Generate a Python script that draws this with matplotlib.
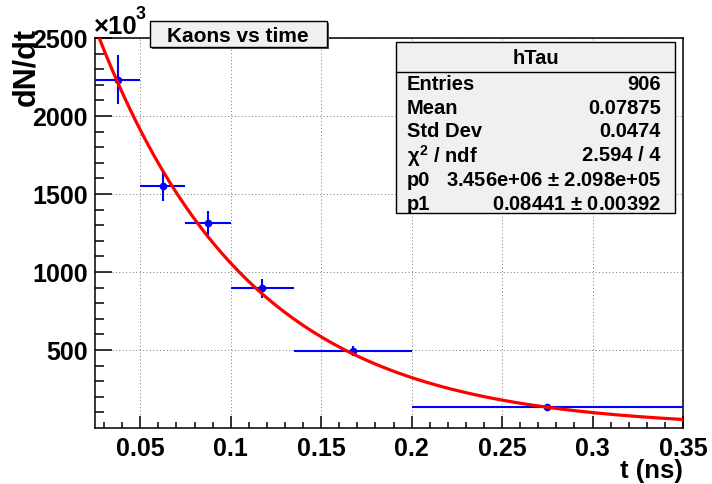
import matplotlib
matplotlib.use('Agg')
import matplotlib.pyplot as plt
from matplotlib.patches import Rectangle
from matplotlib.lines import Line2D
import numpy as np

plt.rcParams['font.family'] = ['Liberation Sans', 'DejaVu Sans']
plt.rcParams['font.weight'] = 'bold'
plt.rcParams['mathtext.fontset'] = 'custom'
plt.rcParams['mathtext.rm'] = 'Liberation Sans:bold'
plt.rcParams['mathtext.it'] = 'Liberation Sans:bold'

# bins (ns) and dN/dt in units of 10^3
t_lo = [0.025, 0.05, 0.075, 0.1, 0.135, 0.2]
t_hi = [0.05, 0.075, 0.1, 0.135, 0.2, 0.35]
rate = [2231, 1551, 1314, 897, 494, 135]
rate_err = [157, 93, 77, 61, 32, 10]

# fit p0*exp(-t/p1)
p0 = 3.456e+06
p1 = 0.08441

stats_labels = ['Entries', 'Mean', 'Std Dev', r'$\chi^2$ / ndf', 'p0', 'p1']
stats_values = ['906', '0.07875', '0.0474', '2.594 / 4',
                '3.456e+06 $\\pm$ 2.098e+05', '0.08441 $\\pm$ 0.00392']

W, H = 712, 485
fig = plt.figure(figsize=(W / 100, H / 100), dpi=100)
ax = fig.add_axes([95 / W, 1 - 429 / H, (683 - 95) / W, (429 - 39) / H])

lo = np.array(t_lo)
hi = np.array(t_hi)
tc = (lo + hi) / 2
ax.errorbar(tc, rate, xerr=(hi - lo) / 2, yerr=rate_err, fmt='o', color='#0000ff',
            ms=4.5, elinewidth=1.5, capsize=0, zorder=3)

tt = np.linspace(0.025, 0.35, 300)
ax.plot(tt, p0 * np.exp(-tt / p1) / 1e3, color='#ff0000', lw=2.3, zorder=4)

ax.set_xlim(0.025, 0.35)
ax.set_ylim(0, 2500)
ax.set_xticks([0.05, 0.1, 0.15, 0.2, 0.25, 0.3, 0.35])
ax.set_xticklabels(['0.05', '0.1', '0.15', '0.2', '0.25', '0.3', '0.35'])
ax.set_xticks(np.arange(0.03, 0.351, 0.01), minor=True)
ax.set_yticks([500, 1000, 1500, 2000, 2500])
ax.set_yticks(np.arange(100, 2500, 100), minor=True)
ax.grid(True, which='major', ls=(0, (1, 2.5)), color='#777777', lw=0.7)
ax.tick_params(axis='both', which='both', direction='in', top=False, right=False,
               labelsize=18, width=1.1)
ax.tick_params(axis='y', which='major', length=12.5, pad=5)
ax.tick_params(axis='y', which='minor', length=6.3)
ax.tick_params(axis='x', which='major', length=8.4, pad=6)
ax.tick_params(axis='x', which='minor', length=4.2)
for s in ax.spines.values():
    s.set_linewidth(1.1)

def px(x, y):
    return x / W, 1 - y / H

fig.text(*px(683, 471), 't (ns)', ha='right', va='center', fontsize=18.5)
fig.text(*px(26, 28), 'dN/dt', ha='center', va='top', rotation=90, fontsize=22)
fig.text(*px(94, 34), '×10', ha='left', va='baseline', fontsize=18.5)
fig.text(*px(136, 19), '3', ha='left', va='baseline', fontsize=13)

# title box
fig.patches.append(Rectangle(px(152, 50), 177 / W, 26 / H, transform=fig.transFigure,
                             facecolor='#555555', edgecolor='none', zorder=5))
fig.patches.append(Rectangle(px(150, 48), 177 / W, 26 / H, transform=fig.transFigure,
                             facecolor='#f0f0f0', edgecolor='black', lw=1, zorder=6))
fig.text(*px(238, 36), 'Kaons vs time', ha='center', va='center', fontsize=15, zorder=7)

# stats box
fig.patches.append(Rectangle(px(396, 214), 279 / W, 171 / H, transform=fig.transFigure,
                             facecolor='#f0f0f0', edgecolor='black', lw=1, zorder=5))
fig.lines.append(Line2D([396 / W, 675 / W], [1 - 73 / H] * 2, transform=fig.transFigure,
                        color='black', lw=1, zorder=6))
fig.text(*px(536, 59), 'hTau', ha='center', va='center', fontsize=14.5, zorder=7)
for i, (lab, val) in enumerate(zip(stats_labels, stats_values)):
    y = 84 + i * 24
    fig.text(*px(407, y), lab, ha='left', va='center', fontsize=14.5, zorder=7)
    fig.text(*px(661, y), val, ha='right', va='center', fontsize=14.5, zorder=7)

fig.savefig('out.png', dpi=100, facecolor='white')
